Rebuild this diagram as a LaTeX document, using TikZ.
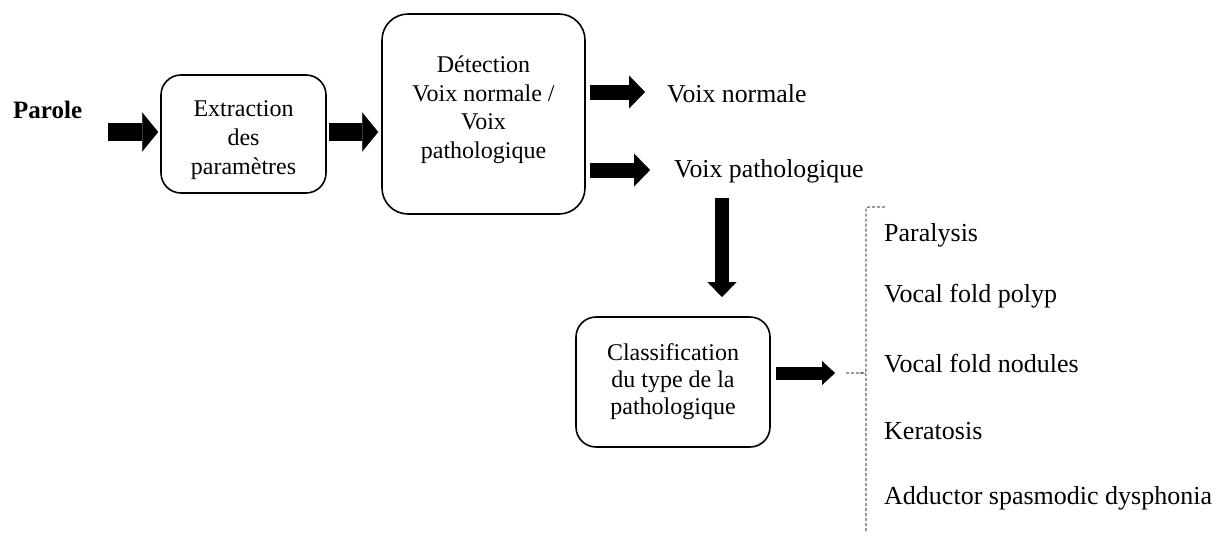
\documentclass[tikz,border=0pt]{standalone}
\usepackage{fontspec}
\setmainfont{Liberation Serif}
\newfontfamily\tnr{Liberation Serif}
\usetikzlibrary{arrows.meta}
\tikzset{
  box/.style={draw, line width=1.6pt, rounded corners=20pt, align=center, inner sep=0pt,
    font=\tnr\fontsize{24}{29}\selectfont},
  lbl/.style={anchor=base west, inner sep=0pt, font=\tnr\fontsize{25.8}{30}\selectfont},
  blk/.style={line width=18pt, -{Triangle[length=16pt,width=39pt,line width=0.1pt]}},
  blkm/.style={line width=15pt, -{Triangle[length=16pt,width=33pt,line width=0.1pt]}},
  blkd/.style={line width=14pt, -{Triangle[length=15pt,width=29pt,line width=0.1pt]}},
  blks/.style={line width=13pt, -{Triangle[length=13pt,width=24pt,line width=0.1pt]}},
  brk/.style={draw=black!60, line width=1.2pt, dash pattern=on 3pt off 2pt}
}
\begin{document}
\begin{tikzpicture}[x=1pt,y=-1pt]
\useasboundingbox (0,0) rectangle (1222,536);
% input label
\node[anchor=base west, inner sep=0pt, font=\tnr\fontsize{25}{30}\selectfont\bfseries] (parole) at (13,118) {Parole};
% boxes
\node[box, minimum width=165pt, minimum height=118pt] (ext) at (243.5,134) {\rule{0pt}{28.3pt}Extraction\\des\\paramètres};
\node[box, font=\tnr\fontsize{24}{28.5}\selectfont, rounded corners=26pt, minimum width=203pt, minimum height=200pt] (det) at (483.5,114) {Détection\\Voix normale /\\Voix\\pathologique\rule[-14pt]{0pt}{0pt}};
\node[box, font=\tnr\fontsize{24}{27}\selectfont, minimum width=194pt, minimum height=130pt] (cls) at (673,382) {Classification\\du type de la\\pathologique};
% outputs
\node[lbl] (vn) at (667,102) {Voix normale};
\node[lbl] (vp) at (674,177) {Voix pathologique};
% list
\node[lbl, font=\tnr\fontsize{26}{30}\selectfont] (l1) at (884,241) {Paralysis};
\node[lbl, font=\tnr\fontsize{26}{30}\selectfont] (l2) at (884,302) {Vocal fold polyp};
\node[lbl, font=\tnr\fontsize{26}{30}\selectfont] (l3) at (884,372) {Vocal fold nodules};
\node[lbl, font=\tnr\fontsize{26}{30}\selectfont] (l4) at (884,439) {Keratosis};
\node[lbl, font=\tnr\fontsize{26}{30}\selectfont] (l5) at (884,504) {Adductor spasmodic dysphonia};
% coordinates
\coordinate (a1s) at (108,132);
\coordinate (dnS) at (722,198);
\coordinate (dnE) at (722,297);
\coordinate (btip) at (845,373);
\coordinate (btop) at (885,207);
\coordinate (bbot) at (866,532);
% arrows
\draw[blk] (a1s) -- ([xshift=-2pt]ext.west |- a1s);
\draw[blk] ([xshift=2pt]ext.east |- a1s) -- ([xshift=-3pt]det.west |- a1s);
\draw[blkm] ([xshift=4pt]det.east |- 0,92) -- ([xshift=-22pt]vn.west |- 0,92);
\draw[blkm] ([xshift=4pt]det.east |- 0,170) -- ([xshift=-24pt]vp.west |- 0,170);
\draw[blkd] (dnS) -- (dnE);
\draw[blks] ([xshift=5pt]cls.east |- btip) -- ([xshift=-10pt]btip);
% bracket
\draw[brk] (btop) -- (869,207) .. controls (866,207) .. (866,210) -- (866,368)
  .. controls (866,373) .. (860,373) -- (btip);
\draw[brk] (860,373) .. controls (866,373) .. (866,378) -- (bbot);
\end{tikzpicture}
\end{document}
